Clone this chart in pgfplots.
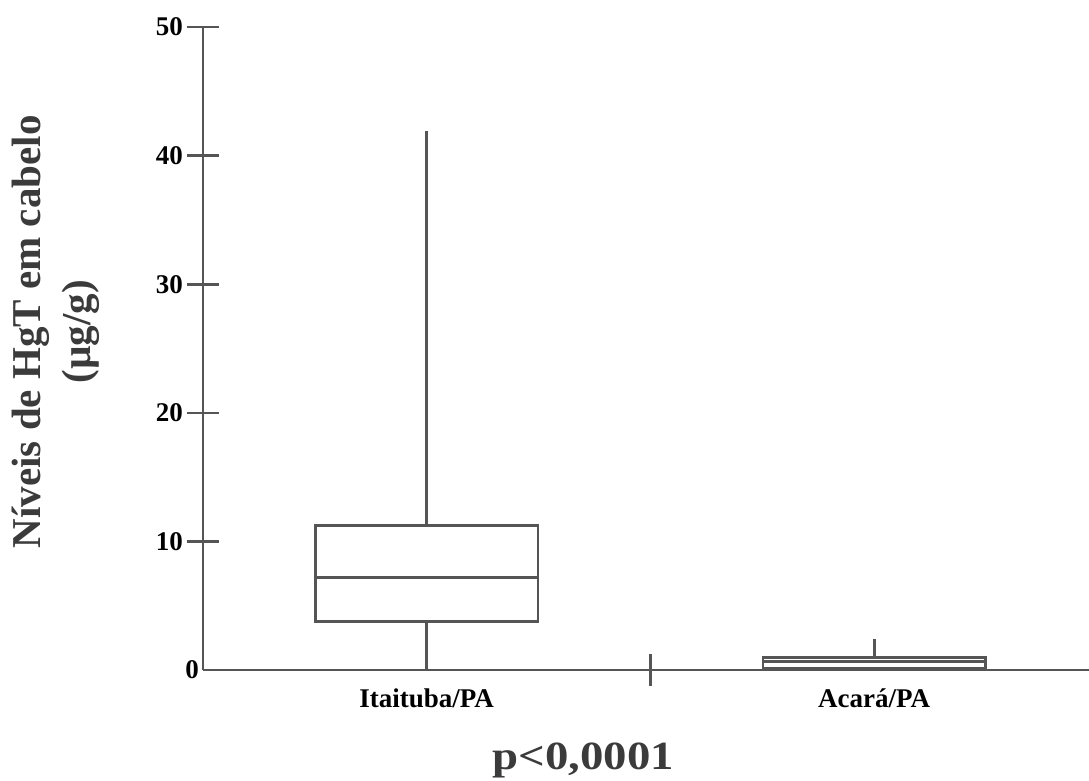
\documentclass[border=0pt]{standalone}
\usepackage{fontspec}
\setmainfont{Liberation Serif}
\usepackage{graphicx}
\usepackage{pgfplots}
\pgfplotsset{compat=1.18}
\usepgfplotslibrary{statistics}
\definecolor{ln}{RGB}{85,85,85}
\begin{document}
\begin{tikzpicture}
\begin{axis}[
  scale only axis,
  width=443pt, height=321.5pt,
  xmin=0.5, xmax=2.48,
  ymin=0, ymax=50,
  axis lines=left,
  axis line style={ln, line width=1.3pt, -},
  every tick/.style={ln, line width=1.3pt},
  tick align=center,
  ytick={10,20,30,40,50},
  extra y ticks={0},
  extra y tick style={major tick length=0pt},
  major tick length=16pt,
  xtick={1.5},
  xticklabels={},
  extra x ticks={1,2},
  extra x tick labels={Itaituba/PA, Acará/PA},
  extra x tick style={major tick length=0pt},
  xticklabel style={font=\fontsize{13.5}{16}\selectfont\bfseries, yshift=-6pt},
  yticklabel style={font=\fontsize{13.5}{16}\selectfont\bfseries, xshift=1.5pt},
  /pgf/number format/assume math mode=true,
  boxplot/draw direction=y,
  clip=false,
]
\addplot+[ln, line width=1.3pt, solid, fill=none, mark=none,
  boxplot prepared={lower whisker=0, lower quartile=3.79, median=7.18,
    upper quartile=11.22, upper whisker=41.94, draw position=1,
    box extend=0.497, whisker extend=0}] coordinates {};
\addplot+[ln, line width=1.3pt, solid, fill=none, mark=none,
  boxplot prepared={lower whisker=0.1, lower quartile=0.13, median=0.65,
    upper quartile=0.99, upper whisker=2.4, draw position=2,
    box extend=0.497, whisker extend=0}] coordinates {};
\node[rotate=90, align=center, font=\fontsize{20.5}{25}\selectfont\bfseries, text=ln!70!black]
  at (axis cs:0.172,26.3) {Níveis de HgT em cabelo\\(µg/g)};
\node[font=\fontsize{20}{24}\selectfont\bfseries, text=ln!70!black]
  at (axis cs:1.35,-7.0) {\scalebox{1.17}[1]{p<0,0001}};
\coordinate (bl) at (rel axis cs:-0.2291,-0.1711);
\coordinate (tr) at (rel axis cs:1,1.042);
\end{axis}
\pgfresetboundingbox
\path (bl) rectangle (tr);
\end{tikzpicture}
\end{document}
